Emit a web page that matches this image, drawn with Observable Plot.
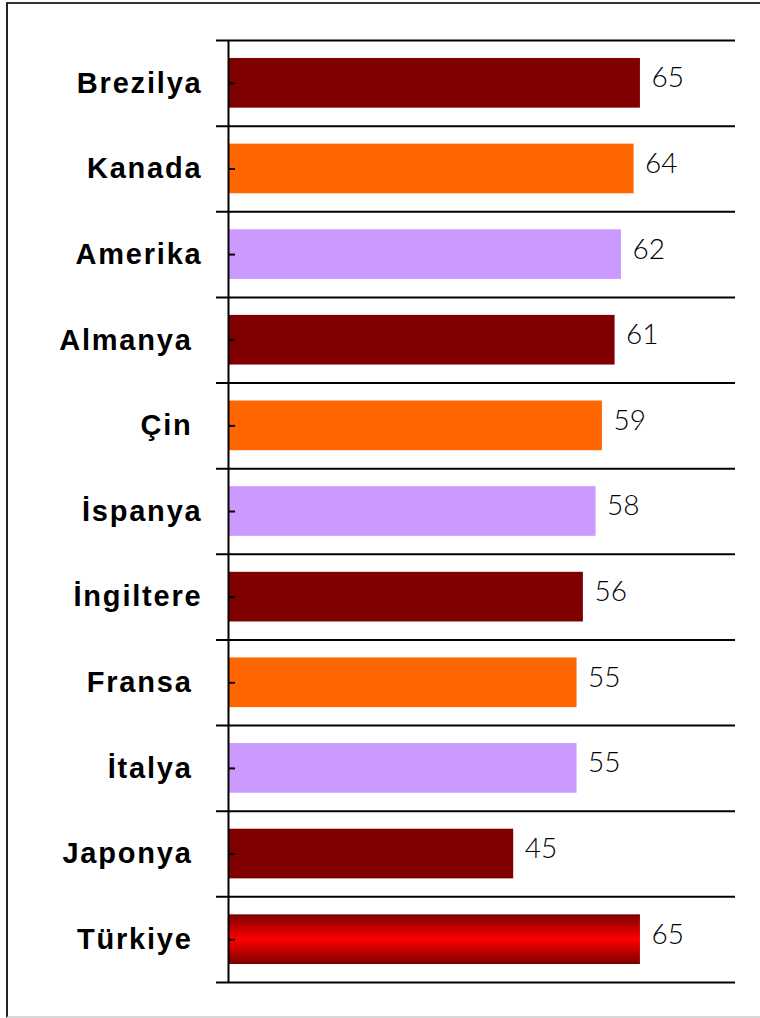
<!DOCTYPE html>
<html>
<head>
<meta charset="utf-8">
<script src="https://cdn.jsdelivr.net/npm/d3@7"></script>
<script src="https://cdn.jsdelivr.net/npm/@observablehq/plot@0.6"></script>
<style>
  html, body { margin: 0; padding: 0; background: #fff; }
  #wrap { position: relative; width: 760px; height: 1018px; overflow: hidden; }
  #frame { position: absolute; left: 6px; top: 2px; width: 770px; height: 1012px;
           border-left: 2px solid #222; border-top: 2px solid #333; border-bottom: 2px solid #d8d8d8; }
  #chart { position: absolute; left: 0; top: 0; }
  #chart .cat text { white-space: pre; }
</style>
</head>
<body>
<div id="wrap"><div id="frame"></div><div id="chart"></div></div>
<script>
// Data
const countries = ["Brezilya", "Kanada", "Amerika", "Almanya ", "Çin ", "İspanya", "İngiltere", "Fransa ", "İtalya ", "Japonya ", "Türkiye "];
const values = [65, 64, 62, 61, 59, 58, 56, 55, 55, 45, 65];
const xTicks = [0, 80];

// Styles
const palette = ["#800000", "#FF6600", "#CC99FF"];
const highlight = "Türkiye ";

const data = countries.map((name, i) => ({name, value: values[i], idx: i}));

const W = 760, H = 1018, mTop = 40, mBottom = 36, mLeft = 228, mRight = 25;
const step = (H - mTop - mBottom) / countries.length;

const chart = Plot.plot({
  width: W,
  height: H,
  marginTop: mTop,
  marginBottom: mBottom,
  marginLeft: mLeft,
  marginRight: mRight,
  style: {background: "transparent", overflow: "visible"},
  x: {domain: xTicks, axis: null},
  y: {domain: countries, paddingInner: 0.42, paddingOuter: 0.21, round: false, axis: null},
  marks: [
    Plot.barX(data, {
      x: "value", y: "name",
      fill: d => d.name === highlight ? "url(#trGrad)" : palette[d.idx % 3]
    }),
    Plot.ruleY(countries, {y: d => d, dy: -step / 2, insetLeft: -12, stroke: "#000", strokeWidth: 2}),
    Plot.ruleY(countries.slice(-1), {y: d => d, dy: step / 2, insetLeft: -12, stroke: "#000", strokeWidth: 2}),
    Plot.ruleX([0], {stroke: "#000", strokeWidth: 2}),
    Plot.axisY({tickSize: -7, tickFormat: () => "", label: null, stroke: "#000", strokeWidth: 2}),
    Plot.axisY({
      className: "cat",
      tickSize: 0, tickPadding: 26,
      tickFormat: d => d,
      label: null,
      fontSize: 29, fontWeight: "bold",
      fontFamily: "Liberation Sans, Arial, sans-serif",
      fill: "#000"
    }),
    Plot.text(data, {
      x: "value", y: "name", text: d => String(d.value),
      dx: 11, dy: -5, textAnchor: "start",
      fontSize: 28, fontFamily: "Lato, sans-serif", fontWeight: 300, fill: "#000"
    })
  ]
});

// gradient definition for the highlighted bar
const ns = "http://www.w3.org/2000/svg";
const defs = document.createElementNS(ns, "defs");
defs.innerHTML = `<linearGradient id="trGrad" x1="0" y1="0" x2="0" y2="1">
  <stop offset="0" stop-color="#7a0000"/>
  <stop offset="0.5" stop-color="#ff0000"/>
  <stop offset="1" stop-color="#7a0000"/>
</linearGradient>`;
chart.insertBefore(defs, chart.firstChild);
chart.querySelectorAll("g.cat text, .cat text").forEach(t => {
  t.setAttribute("letter-spacing", "1.8");
});
document.getElementById("chart").appendChild(chart);
</script>
</body>
</html>
